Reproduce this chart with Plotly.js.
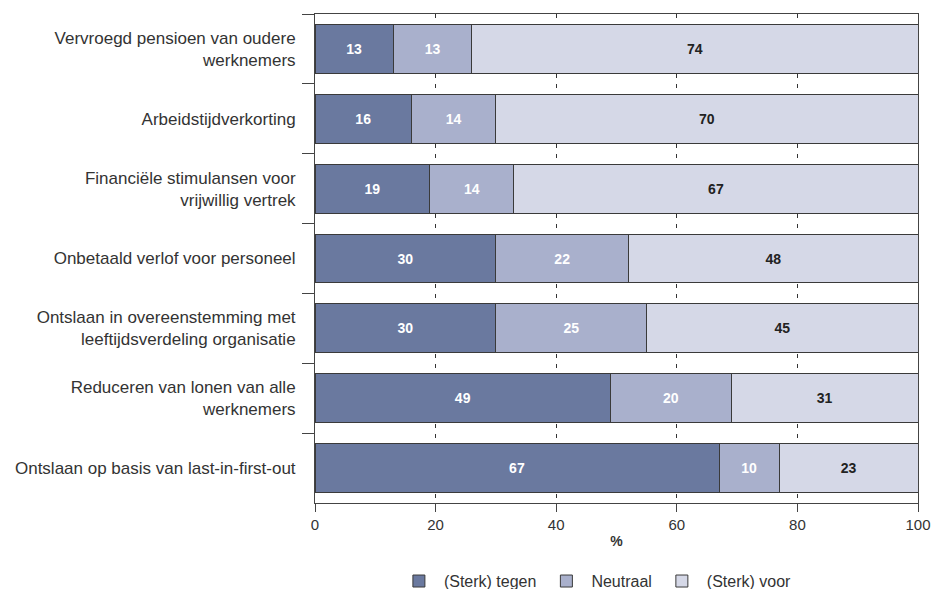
<!DOCTYPE html>
<html>
<head>
<meta charset="utf-8">
<script src="https://cdn.plot.ly/plotly-3.0.1.min.js"></script>
<style>html,body{margin:0;padding:0;background:#fff;}#chart{width:938px;height:589px;}</style>
</head>
<body>
<div id="chart"></div>
<script>
var categories = [
  "Vervroegd pensioen van oudere<br>werknemers",
  "Arbeidstijdverkorting",
  "Financiële stimulansen voor<br>vrijwillig vertrek",
  "Onbetaald verlof voor personeel",
  "Ontslaan in overeenstemming met<br>leeftijdsverdeling organisatie",
  "Reduceren van lonen van alle<br>werknemers",
  "Ontslaan op basis van last-in-first-out"
];
var tegen   = [13, 16, 19, 30, 30, 49, 67];
var neutraal = [13, 14, 14, 22, 25, 20, 10];
var voor    = [74, 70, 67, 48, 45, 31, 23];
var seriesNames = ["(Sterk) tegen", "Neutraal", "(Sterk) voor"];
var xTicks = [0, 20, 40, 60, 80, 100];

var colors = ["#6a799f", "#a9b0cc", "#d5d8e7"];
var textColors = ["#ffffff", "#ffffff", "#222222"];
var vals = [tegen, neutraal, voor];

var traces = vals.map(function(v, i) {
  return {
    type: "bar",
    orientation: "h",
    y: categories,
    x: v,
    name: seriesNames[i],
    text: v.map(String),
    textposition: "inside",
    insidetextanchor: "middle",
    textfont: {family: "Liberation Sans, Arial, sans-serif", size: 14, color: textColors[i], weight: "bold"},
    marker: {color: colors[i], line: {color: "#3a3a3a", width: 1}},
    hoverinfo: "x+name"
  };
});

var layout = {
  width: 938,
  height: 589,
  barmode: "stack",
  bargap: 0.3,
  margin: {l: 315, r: 20, t: 14, b: 86, autoexpand: false},
  paper_bgcolor: "#ffffff",
  plot_bgcolor: "#ffffff",
  font: {family: "Liberation Sans, Arial, sans-serif", size: 14, color: "#333333"},
  showlegend: true,
  legend: {
    orientation: "h",
    x: 0.465, xanchor: "center",
    y: -0.125, yanchor: "top",
    font: {size: 16, color: "#333333"},
    traceorder: "normal",
    itemwidth: 40
  },
  xaxis: {
    range: [0, 100],
    tickvals: xTicks,
    ticktext: xTicks.map(String),
    showgrid: true,
    gridcolor: "#333333",
    griddash: "4px,6px",
    gridwidth: 1.2,
    showline: true,
    linecolor: "#444444",
    linewidth: 1,
    mirror: true,
    ticks: "outside",
    ticklen: 8,
    tickcolor: "#444444",
    ticklabelstandoff: 0,
    tickfont: {size: 15, color: "#333333"},
    zeroline: false,
    title: {text: "%", font: {size: 14, color: "#333333", weight: "bold"}, standoff: 4},
    fixedrange: true
  },
  yaxis: {
    autorange: "reversed",
    showline: true,
    linecolor: "#444444",
    linewidth: 1,
    mirror: true,
    ticks: "outside",
    tickson: "boundaries",
    ticklen: 12,
    tickcolor: "#444444",
    ticklabelstandoff: 15,
    showgrid: false,
    tickfont: {size: 17, color: "#333333"},
    fixedrange: true
  }
};

Plotly.newPlot("chart", traces, layout, {displayModeBar: false, staticPlot: true});
</script>
</body>
</html>
